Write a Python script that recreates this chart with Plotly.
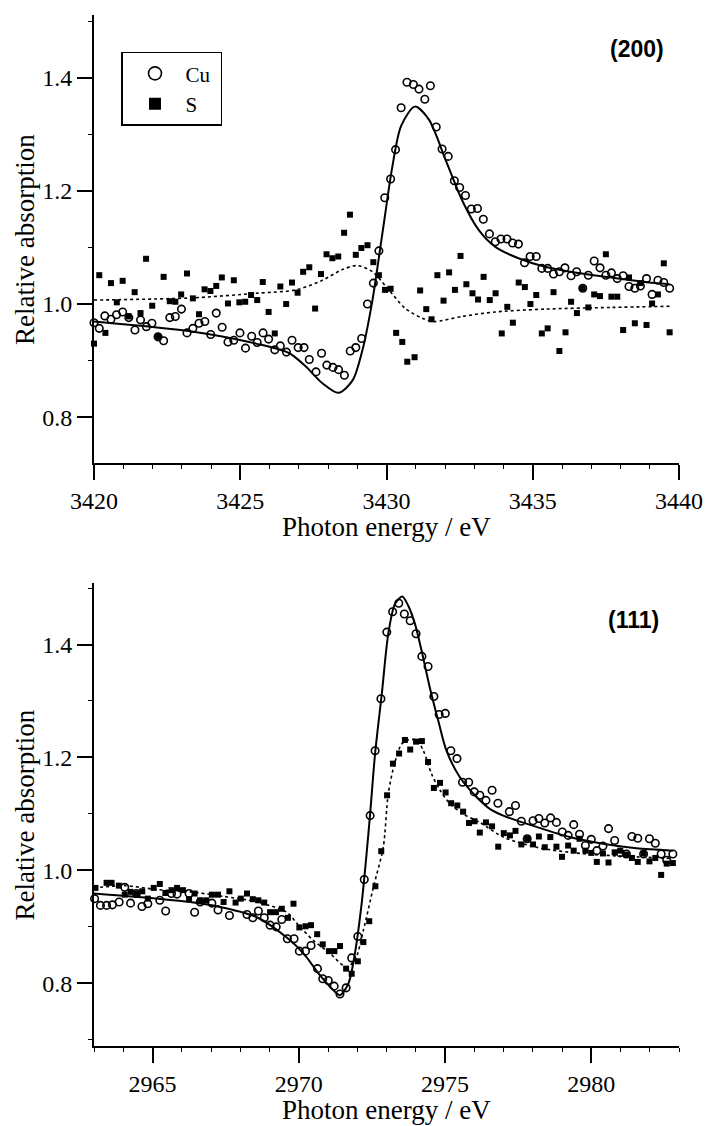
import plotly.graph_objects as go

# ---------------- (200) panel ----------------
cu200_e = [3420.00, 3420.18, 3420.37, 3420.58, 3420.77, 3420.98, 3421.19, 3421.40, 3421.59, 3421.79,
           3421.98, 3422.19, 3422.38, 3422.59, 3422.78, 3422.99, 3423.18, 3423.38, 3423.59, 3423.79,
           3423.99, 3424.18, 3424.38, 3424.58, 3424.78, 3424.99, 3425.18, 3425.39, 3425.58, 3425.78,
           3425.97, 3426.18, 3426.37, 3426.58, 3426.77, 3426.98, 3427.18, 3427.36, 3427.59, 3427.78,
           3427.96, 3428.17, 3428.36, 3428.56, 3428.76, 3428.95, 3429.15, 3429.35, 3429.55, 3429.74,
           3429.94, 3430.14, 3430.31, 3430.50, 3430.70, 3430.92, 3431.11, 3431.31, 3431.50, 3431.70,
           3431.90, 3432.11, 3432.32, 3432.50, 3432.70, 3432.90, 3433.11, 3433.31, 3433.52, 3433.72,
           3433.91, 3434.12, 3434.31, 3434.51, 3434.72, 3434.91, 3435.12, 3435.31, 3435.51, 3435.71,
           3435.91, 3436.10, 3436.31, 3436.50, 3436.71, 3436.90, 3437.10, 3437.30, 3437.50, 3437.69,
           3437.89, 3438.09, 3438.29, 3438.49, 3438.68, 3438.89, 3439.08, 3439.28, 3439.48, 3439.68]
cu200_v = [0.967, 0.957, 0.979, 0.973, 0.981, 0.986, 0.976, 0.954, 0.972, 0.960,
           0.966, 0.942, 0.935, 0.976, 0.978, 0.991, 0.949, 0.957, 0.966, 0.969,
           0.946, 0.984, 0.959, 0.933, 0.936, 0.949, 0.922, 0.943, 0.932, 0.949,
           0.938, 0.919, 0.926, 0.915, 0.936, 0.923, 0.923, 0.902, 0.880, 0.913,
           0.892, 0.888, 0.884, 0.874, 0.917, 0.923, 0.939, 1.000, 1.037, 1.094,
           1.188, 1.221, 1.273, 1.347, 1.392, 1.388, 1.380, 1.362, 1.386, 1.313,
           1.274, 1.261, 1.218, 1.206, 1.192, 1.168, 1.169, 1.150, 1.124, 1.110,
           1.115, 1.115, 1.108, 1.106, 1.073, 1.084, 1.084, 1.063, 1.063, 1.053,
           1.057, 1.064, 1.050, 1.057, 1.028, 1.051, 1.076, 1.064, 1.051, 1.055,
           1.045, 1.050, 1.031, 1.028, 1.032, 1.045, 1.017, 1.042, 1.038, 1.028]

s200_e = [3420.00, 3420.18, 3420.39, 3420.58, 3420.78, 3420.98, 3421.19, 3421.39, 3421.59, 3421.78,
          3421.99, 3422.19, 3422.38, 3422.59, 3422.78, 3422.98, 3423.18, 3423.38, 3423.59, 3423.78,
          3423.98, 3424.18, 3424.37, 3424.58, 3424.78, 3424.97, 3425.17, 3425.37, 3425.58, 3425.77,
          3425.97, 3426.18, 3426.37, 3426.57, 3426.77, 3426.96, 3427.15, 3427.36, 3427.56, 3427.76,
          3427.95, 3428.15, 3428.35, 3428.55, 3428.75, 3428.95, 3429.14, 3429.35, 3429.55, 3429.74,
          3429.95, 3430.14, 3430.33, 3430.54, 3430.71, 3430.96, 3431.15, 3431.36, 3431.54, 3431.74,
          3431.95, 3432.14, 3432.34, 3432.53, 3432.73, 3432.94, 3433.13, 3433.32, 3433.53, 3433.73,
          3433.94, 3434.13, 3434.32, 3434.52, 3434.73, 3434.92, 3435.12, 3435.31, 3435.51, 3435.71,
          3435.91, 3436.12, 3436.31, 3436.51, 3436.71, 3436.90, 3437.10, 3437.30, 3437.50, 3437.69,
          3437.89, 3438.09, 3438.29, 3438.49, 3438.68, 3438.89, 3439.08, 3439.28, 3439.48, 3439.68]
s200_v = [0.930, 1.051, 0.949, 1.037, 1.003, 1.041, 0.978, 1.021, 0.984, 1.080,
          0.997, 0.942, 1.048, 1.005, 1.004, 1.017, 1.054, 1.010, 0.982, 1.026,
          1.023, 1.032, 1.047, 1.001, 1.042, 1.003, 1.004, 1.016, 1.007, 1.039,
          0.986, 0.948, 1.031, 1.000, 1.038, 1.020, 1.057, 1.065, 0.992, 1.053,
          1.088, 1.081, 1.084, 1.126, 1.158, 1.087, 1.099, 1.104, 1.074, 1.051,
          1.025, 1.027, 0.949, 0.933, 0.898, 0.906, 1.024, 0.991, 0.973, 1.051,
          1.006, 1.056, 1.025, 1.085, 1.035, 1.019, 1.008, 1.048, 1.007, 1.019,
          0.948, 0.995, 0.967, 1.038, 1.030, 1.000, 1.016, 0.948, 0.957, 1.021,
          0.917, 0.950, 1.004, 0.984, 1.028, 0.994, 1.017, 1.014, 1.088, 1.013,
          1.013, 0.954, 1.047, 0.966, 1.037, 0.963, 1.001, 1.017, 1.072, 0.950]

# fitted curves
cu200_fit_e = [3420.0, 3423.4, 3425.54, 3426.68, 3427.25, 3427.81, 3428.36, 3428.84, 3429.18, 3429.52,
               3429.86, 3430.20, 3430.50, 3430.97, 3431.45, 3432.02, 3432.58, 3433.15, 3433.72, 3434.51,
               3435.42, 3436.55, 3437.69, 3438.83, 3439.68]
cu200_fit_v = [0.969, 0.951, 0.930, 0.913, 0.889, 0.860, 0.843, 0.865, 0.919, 1.007,
               1.125, 1.243, 1.315, 1.349, 1.326, 1.255, 1.184, 1.131, 1.101, 1.081,
               1.066, 1.055, 1.047, 1.039, 1.035]
s200_fit_e = [3420.0, 3423.4, 3425.54, 3426.9, 3427.81, 3428.49, 3429.0, 3429.52, 3430.0, 3430.65,
              3431.22, 3431.62, 3432.58, 3433.72, 3435.42, 3437.69, 3439.68]
s200_fit_v = [1.007, 1.011, 1.019, 1.025, 1.042, 1.061, 1.068, 1.057, 1.030, 0.992,
              0.975, 0.969, 0.978, 0.986, 0.991, 0.994, 0.996]

# ---------------- (111) panel ----------------
cu111_e = [2963.02, 2963.22, 2963.43, 2963.63, 2963.86, 2964.05, 2964.25, 2964.45, 2964.64, 2964.84,
           2965.25, 2965.45, 2965.65, 2965.84, 2966.25, 2966.44, 2966.63, 2967.03, 2967.24, 2967.63,
           2968.23, 2968.43, 2968.62, 2968.82, 2969.02, 2969.23, 2969.42, 2969.61, 2969.84, 2970.02,
           2970.23, 2970.42, 2970.64, 2970.82, 2971.01, 2971.21, 2971.41, 2971.62, 2971.81, 2972.02,
           2972.24, 2972.44, 2972.61, 2972.81, 2973.01, 2973.21, 2973.42, 2973.61, 2973.81, 2974.01,
           2974.21, 2974.42, 2974.62, 2974.80, 2975.01, 2975.20, 2975.41, 2975.60, 2975.81, 2976.00,
           2976.19, 2976.40, 2976.61, 2976.81, 2977.20, 2977.41, 2977.61, 2977.81, 2978.01, 2978.21,
           2978.41, 2978.61, 2978.81, 2979.01, 2979.21, 2979.40, 2979.60, 2979.80, 2980.00, 2980.19,
           2980.40, 2980.59, 2980.80, 2980.99, 2981.20, 2981.39, 2981.59, 2981.79, 2981.99, 2982.19,
           2982.39, 2982.58, 2982.79]
cu111_v = [0.950, 0.938, 0.938, 0.939, 0.944, 0.970, 0.942, 0.959, 0.936, 0.941,
           0.947, 0.928, 0.959, 0.958, 0.959, 0.926, 0.944, 0.942, 0.930, 0.920,
           0.922, 0.916, 0.928, 0.916, 0.903, 0.900, 0.913, 0.879, 0.879, 0.857,
           0.857, 0.867, 0.826, 0.808, 0.805, 0.795, 0.781, 0.792, 0.845, 0.883,
           0.984, 1.097, 1.212, 1.304, 1.422, 1.458, 1.473, 1.454, 1.442, 1.419,
           1.379, 1.361, 1.308, 1.276, 1.278, 1.212, 1.198, 1.156, 1.156, 1.139,
           1.133, 1.124, 1.142, 1.119, 1.104, 1.115, 1.087, 1.056, 1.088, 1.092,
           1.084, 1.093, 1.085, 1.068, 1.062, 1.081, 1.064, 1.044, 1.055, 1.035,
           1.043, 1.074, 1.053, 1.031, 1.029, 1.060, 1.057, 1.029, 1.056, 1.048,
           1.029, 1.018, 1.029]

s111_e = [2963.05, 2963.43, 2963.60, 2963.85, 2964.05, 2964.25, 2964.45, 2964.65, 2964.84, 2965.04,
          2965.25, 2965.44, 2965.65, 2965.84, 2966.04, 2966.25, 2966.44, 2966.63, 2966.84, 2967.03,
          2967.24, 2967.43, 2967.63, 2967.84, 2968.02, 2968.23, 2968.43, 2968.62, 2968.82, 2969.02,
          2969.22, 2969.42, 2969.63, 2969.82, 2970.02, 2970.23, 2970.42, 2970.63, 2970.82, 2971.03,
          2971.22, 2971.41, 2971.62, 2971.81, 2972.02, 2972.21, 2972.41, 2972.62, 2972.82, 2973.02,
          2973.22, 2973.43, 2973.63, 2973.81, 2974.01, 2974.21, 2974.42, 2974.62, 2974.83, 2975.02,
          2975.21, 2975.42, 2975.62, 2975.82, 2976.01, 2976.19, 2976.40, 2976.61, 2976.82, 2977.01,
          2977.22, 2977.41, 2977.61, 2977.81, 2978.01, 2978.21, 2978.41, 2978.60, 2978.81, 2979.00,
          2979.21, 2979.40, 2979.60, 2979.80, 2980.00, 2980.19, 2980.40, 2980.59, 2980.80, 2980.99,
          2981.20, 2981.39, 2981.59, 2981.79, 2981.99, 2982.19, 2982.39, 2982.58, 2982.79]
s111_v = [0.969, 0.978, 0.978, 0.973, 0.957, 0.962, 0.959, 0.963, 0.950, 0.969,
          0.976, 0.960, 0.965, 0.969, 0.965, 0.949, 0.959, 0.947, 0.947, 0.957,
          0.957, 0.944, 0.963, 0.943, 0.950, 0.959, 0.949, 0.947, 0.943, 0.926,
          0.926, 0.932, 0.916, 0.941, 0.899, 0.901, 0.903, 0.887, 0.869, 0.857,
          0.857, 0.866, 0.826, 0.817, 0.839, 0.873, 0.910, 0.972, 1.034, 1.133,
          1.189, 1.207, 1.231, 1.214, 1.228, 1.229, 1.192, 1.146, 1.155, 1.138,
          1.119, 1.115, 1.104, 1.084, 1.087, 1.067, 1.085, 1.078, 1.042, 1.066,
          1.062, 1.070, 1.046, 1.056, 1.046, 1.060, 1.041, 1.059, 1.042, 1.024,
          1.044, 1.035, 1.056, 1.035, 1.031, 1.015, 1.030, 1.014, 1.032, 1.035,
          1.028, 1.022, 1.015, 1.030, 1.016, 1.022, 0.992, 1.012, 1.013]

cu111_fit_e = [2963.0, 2965.16, 2966.29, 2967.43, 2968.57, 2969.59, 2970.16, 2970.73, 2971.18, 2971.41,
               2971.70, 2971.92, 2972.15, 2972.32, 2972.44, 2972.61, 2972.84, 2973.06, 2973.29, 2973.54,
               2973.74, 2973.97, 2974.20, 2974.48, 2974.77, 2975.05, 2975.51, 2976.08, 2976.53, 2976.99,
               2978.13, 2979.26, 2980.40, 2981.54, 2982.79]
cu111_fit_v = [0.959, 0.950, 0.944, 0.934, 0.917, 0.881, 0.853, 0.814, 0.788, 0.779,
               0.800, 0.853, 0.941, 1.030, 1.100, 1.207, 1.313, 1.419, 1.472, 1.485,
               1.469, 1.437, 1.389, 1.324, 1.265, 1.212, 1.165, 1.130, 1.109, 1.097,
               1.077, 1.059, 1.047, 1.039, 1.035]
s111_fit_e = [2963.0, 2964.02, 2965.16, 2966.29, 2967.43, 2968.57, 2969.59, 2969.94, 2970.50, 2971.07,
              2971.62, 2971.92, 2972.21, 2972.55, 2972.89, 2973.06, 2973.29, 2973.52, 2973.74, 2974.03,
              2974.26, 2974.54, 2974.83, 2975.17, 2975.62, 2976.19, 2976.99, 2978.13, 2979.26, 2980.40,
              2981.54, 2982.79]
s111_fit_v = [0.969, 0.973, 0.966, 0.962, 0.954, 0.944, 0.926, 0.906, 0.876, 0.853,
              0.829, 0.841, 0.894, 0.970, 1.041, 1.136, 1.192, 1.224, 1.231, 1.231,
              1.212, 1.171, 1.142, 1.118, 1.100, 1.085, 1.059, 1.041, 1.032, 1.027,
              1.024, 1.021]

serif = "Liberation Serif"
sans = "Liberation Sans"
ink = "black"

circle = dict(symbol="circle-open", size=7.5, color=ink, line=dict(width=1.6, color=ink))
square = dict(symbol="square", size=6, color=ink, line=dict(width=0))

fig = go.Figure()

for xa, ya, ce, cv, se, sv, cfe, cfv, sfe, sfv in [
    ("x", "y", cu200_e, cu200_v, s200_e, s200_v, cu200_fit_e, cu200_fit_v, s200_fit_e, s200_fit_v),
    ("x2", "y2", cu111_e, cu111_v, s111_e, s111_v, cu111_fit_e, cu111_fit_v, s111_fit_e, s111_fit_v),
]:
    fig.add_trace(go.Scatter(x=sfe, y=sfv, mode="lines", xaxis=xa, yaxis=ya, showlegend=False,
                             line=dict(color=ink, width=1.6, dash="dot", shape="spline", smoothing=0.8)))
    fig.add_trace(go.Scatter(x=cfe, y=cfv, mode="lines", xaxis=xa, yaxis=ya, showlegend=False,
                             line=dict(color=ink, width=2, shape="spline", smoothing=0.8)))
    fig.add_trace(go.Scatter(x=se, y=sv, mode="markers", xaxis=xa, yaxis=ya, showlegend=False,
                             marker=square, cliponaxis=False))
    fig.add_trace(go.Scatter(x=ce, y=cv, mode="markers", xaxis=xa, yaxis=ya, showlegend=False,
                             marker=circle, cliponaxis=False))

# legend entries (bigger glyphs than the data marks)
fig.add_trace(go.Scatter(x=[None], y=[None], mode="markers", name="\u00a0\u00a0Cu\u00a0",
                         marker=dict(symbol="circle-open", size=13, color=ink, line=dict(width=1.6, color=ink))))
fig.add_trace(go.Scatter(x=[None], y=[None], mode="markers", name="\u00a0\u00a0S",
                         marker=dict(symbol="square", size=12, color=ink)))

axis_common = dict(
    showline=True, linecolor=ink, linewidth=2, showgrid=False, zeroline=False, automargin=False,
    ticks="outside", ticklen=15, tickwidth=2, tickcolor=ink,
    tickfont=dict(family=serif, size=24, color=ink),
    minor=dict(ticks="outside", ticklen=4, tickwidth=1, tickcolor=ink),
)
title_font = dict(family=serif, size=27, color=ink)
label_font = dict(family=sans, size=23, color=ink)

fig.update_layout(
    width=707, height=1126,
    margin=dict(l=94, r=28, t=15, b=80),
    plot_bgcolor="white", paper_bgcolor="white",
    font=dict(family=serif, color=ink),
    xaxis=dict(axis_common, domain=[0, 1], anchor="y", range=[3420, 3440],
               tickvals=[3420, 3425, 3430, 3435, 3440], minor_dtick=1),
    yaxis=dict(axis_common, domain=[0.5655, 1], anchor="x", range=[0.719, 1.511],
               tickvals=[0.8, 1.0, 1.2, 1.4], ticktext=["0.8", "1.0", "1.2", "1.4"], minor_dtick=0.1),
    xaxis2=dict(axis_common, domain=[0, 1], anchor="y2", range=[2963, 2983],
                tickvals=[2965, 2970, 2975, 2980], minor_dtick=1),
    yaxis2=dict(axis_common, domain=[0, 0.4491], anchor="x2", range=[0.689, 1.509],
                tickvals=[0.8, 1.0, 1.2, 1.4], ticktext=["0.8", "1.0", "1.2", "1.4"], minor_dtick=0.1),
    legend=dict(x=0.047, y=0.9644, xanchor="left", yanchor="top",
                bgcolor="white", bordercolor=ink, borderwidth=1.5,
                font=dict(family=serif, size=21, color=ink),
                itemsizing="trace", tracegroupgap=0, indentation=12),
    annotations=[
        # axis titles
        dict(text="Photon energy / eV", xref="paper", yref="paper", x=0.5, y=0.5034,
             xanchor="center", yanchor="middle", showarrow=False, font=title_font),
        dict(text="Photon energy / eV", xref="paper", yref="paper", x=0.5, y=-0.0621,
             xanchor="center", yanchor="middle", showarrow=False, font=title_font),
        dict(text="Relative absorption", xref="paper", yref="paper", x=-0.118, y=0.7827,
             xanchor="center", yanchor="middle", textangle=-90, showarrow=False, font=title_font),
        dict(text="Relative absorption", xref="paper", yref="paper", x=-0.118, y=0.2245,
             xanchor="center", yanchor="middle", textangle=-90, showarrow=False, font=title_font),
        # panel labels
        dict(text="<b>(200)</b>", xref="paper", yref="paper", x=0.928, y=0.967,
             xanchor="center", yanchor="middle", showarrow=False, font=label_font),
        dict(text="<b>(111)</b>", xref="paper", yref="paper", x=0.923, y=0.4132,
             xanchor="center", yanchor="middle", showarrow=False, font=label_font),
    ],
)

# the page's default body margin would push the figure 8 px right and down
fig.write_html("out.html", config={"displayModeBar": False},
               post_script="document.body.style.margin='0';document.body.style.overflow='hidden';")
